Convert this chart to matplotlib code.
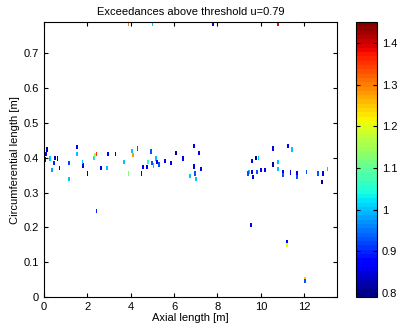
import numpy as np
import matplotlib.pyplot as plt
from matplotlib import colors

plt.rcParams['font.family'] = ['Liberation Sans', 'DejaVu Sans']

# exceedance cells: axial position [m], circumferential position [m], value
axial = [0.14, 0.05, 0.08, 0.27, 0.36, 0.5, 0.63, 0.72, 0.36, 0.45,
         1.14, 1.14, 1.51, 1.51, 1.8, 1.78, 2.0, 2.3, 2.36, 2.43, 2.62,
         2.94, 2.9, 3.3, 3.7, 4.05, 4.1, 3.9, 4.3, 4.56, 4.74, 4.5,
         4.8, 4.93, 4.97, 5.04, 5.16, 5.21, 5.3, 5.58, 5.86, 6.09, 6.4,
         6.92, 7.15, 7.24, 6.92, 6.97, 7.0, 6.73,
         9.79, 9.6, 9.46, 9.6, 9.42, 9.83, 9.64, 9.9,
         10.56, 10.02, 10.2, 10.57, 10.8, 10.8, 11.03, 11.03, 11.26,
         11.45, 11.36, 11.68, 11.68, 12.1, 12.65, 12.88, 12.83, 13.07,
         2.42, 9.54, 11.2, 11.2, 12.05, 12.05,
         2.0, 3.9, 5.0, 7.8, 8.0, 10.8]
circ = [0.424, 0.395, 0.41, 0.398, 0.364, 0.40, 0.398, 0.37, 0.364, 0.385,
        0.34, 0.384, 0.43, 0.412, 0.378, 0.388, 0.355, 0.40, 0.407, 0.412,
        0.37, 0.41, 0.37, 0.412, 0.387, 0.42, 0.407, 0.355, 0.427, 0.373,
        0.373, 0.355, 0.387, 0.418, 0.384, 0.378, 0.398, 0.387, 0.381,
        0.392, 0.384, 0.415, 0.398, 0.433, 0.415, 0.367, 0.375, 0.355,
        0.34, 0.347, 0.40, 0.39, 0.36, 0.36, 0.355, 0.36, 0.344, 0.40,
        0.427, 0.364, 0.364, 0.381, 0.387, 0.368, 0.358, 0.35, 0.433,
        0.424, 0.358, 0.355, 0.344, 0.36, 0.355, 0.355, 0.33, 0.367,
        0.247, 0.207, 0.157, 0.149, 0.053, 0.046,
        0.785, 0.785, 0.785, 0.785, 0.785, 0.785]
value = [0.81, 0.86, 0.88, 1.0, 1.0, 0.85, 0.82, 0.82, 0.98, 0.9,
         1.0, 0.92, 0.86, 1.0, 0.86, 1.0, 0.82, 1.02, 1.15, 1.35, 0.86,
         0.86, 1.0, 0.81, 1.0, 1.0, 1.28, 1.12, 0.93, 0.86, 0.86, 0.86,
         1.05, 0.93, 0.93, 1.0, 1.0, 0.86, 0.93, 0.86, 0.86, 0.81, 0.86,
         0.86, 0.86, 0.86, 0.86, 0.93, 1.0, 1.0,
         0.81, 0.86, 1.0, 0.86, 0.93, 0.93, 0.86, 1.0,
         0.86, 0.86, 0.86, 0.81, 1.0, 1.0, 0.86, 0.93, 0.86,
         1.0, 0.86, 0.86, 0.93, 0.93, 0.93, 0.86, 0.81, 1.0,
         0.9, 0.86, 0.88, 1.2, 1.25, 0.93,
         0.86, 1.3, 1.0, 0.86, 1.1, 1.38]

u = 0.79
vmax = 1.45
cell_w = 0.07
cell_h = 0.012

fig = plt.figure(figsize=(3.97, 3.25), dpi=100)
ax = fig.add_axes([0.111, 0.086, 0.737, 0.846])
cax = fig.add_axes([0.897, 0.086, 0.053, 0.846])

cmap = plt.get_cmap('jet', 64)
norm = colors.Normalize(vmin=u, vmax=vmax)

ax.bar(axial, height=cell_h, width=cell_w, bottom=np.array(circ) - cell_h / 2,
       color=cmap(norm(np.array(value))), linewidth=0)

ax.set_xlim(0, 13.5)
ax.set_ylim(0, 0.79)
ax.set_xticks(np.arange(0, 13, 2))
ax.set_yticks(np.arange(0, 0.71, 0.1))
ax.set_yticklabels(['0', '0.1', '0.2', '0.3', '0.4', '0.5', '0.6', '0.7'])
ax.tick_params(direction='in', top=True, right=True, labelsize=8, length=3)
ax.set_xlabel('Axial length [m]', fontsize=8, labelpad=1)
ax.set_ylabel('Circumferential length [m]', fontsize=8, labelpad=3)
ax.set_title('Exceedances above threshold u=0.79', fontsize=8, pad=5)

sm = plt.cm.ScalarMappable(norm=norm, cmap=cmap)
cb = fig.colorbar(sm, cax=cax)
cb.set_ticks([0.8, 0.9, 1.0, 1.1, 1.2, 1.3, 1.4])
cb.set_ticklabels(['0.8', '0.9', '1', '1.1', '1.2', '1.3', '1.4'])
cax.tick_params(direction='in', left=True, right=True, labelsize=8, length=3)

fig.savefig('out.png', dpi=100)
